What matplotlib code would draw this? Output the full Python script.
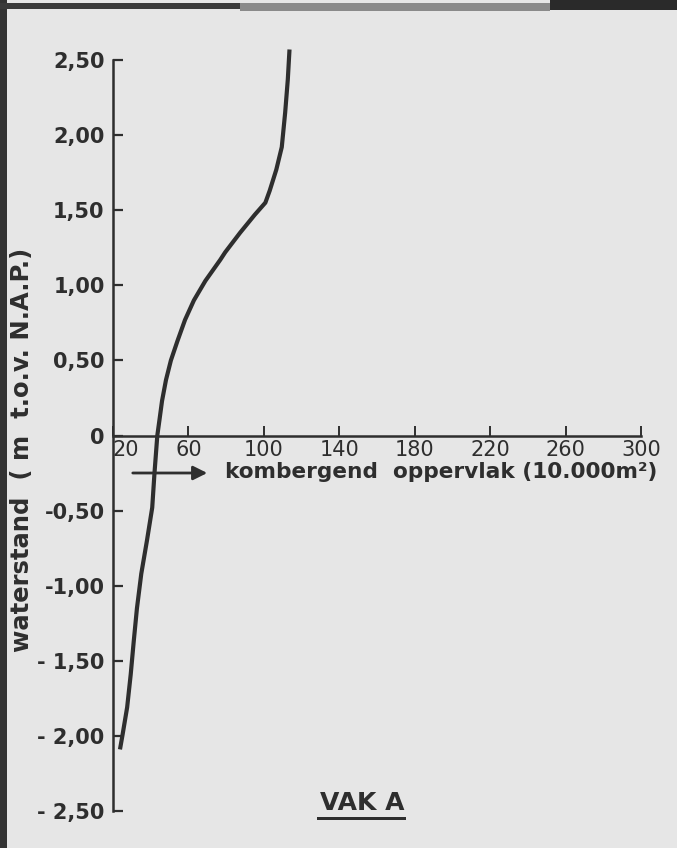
import matplotlib
matplotlib.use("Agg")
import matplotlib.pyplot as plt
from matplotlib.patches import Rectangle, FancyArrowPatch

# curve: area (10.000 m2) vs water level (m t.o.v. N.A.P.)
area = [23.7, 25.1, 27.5, 29.4, 31.0, 32.7, 35.0, 38.0, 40.8, 42.0, 43.5,
        44.6, 46.0, 48.1, 50.7, 54.2, 58.2, 62.9, 69.0, 76.9, 79.5, 87.4,
        95.2, 100.8, 103.1, 106.6, 109.5, 111.3, 112.7, 113.6]
level = [-2.09, -1.99, -1.81, -1.59, -1.37, -1.15, -0.92, -0.70, -0.48,
         -0.25, 0.00, 0.10, 0.23, 0.37, 0.50, 0.63, 0.77, 0.90, 1.03, 1.17,
         1.22, 1.35, 1.47, 1.55, 1.63, 1.77, 1.92, 2.15, 2.37, 2.57]

x_ticks = [20, 60, 100, 140, 180, 220, 260, 300]
y_ticks = [-2.5, -2.0, -1.5, -1.0, -0.5, 0, 0.5, 1.0, 1.5, 2.0, 2.5]
y_labels = ["- 2,50", "- 2,00", "- 1,50", "-1,00", "-0,50", "0",
            "0,50", "1,00", "1,50", "2,00", "2,50"]
x_labels = ["20", "60", "100", "140", "180", "220", "260", "300"]

ink = "#2e2e2e"
paper = "#e6e6e6"

fig = plt.figure(figsize=(6.77, 8.48), dpi=100)
fig.patch.set_facecolor(paper)
ax = fig.add_axes([113 / 677, 1 - 811 / 848, 528 / 677, 751 / 848])
ax.set_facecolor(paper)

ax.plot(area, level, color=ink, lw=3.0, solid_joinstyle="round",
        solid_capstyle="butt", clip_on=False)

ax.set_xlim(20, 300)
ax.set_ylim(-2.5, 2.5)
for s in ["top", "right"]:
    ax.spines[s].set_visible(False)
ax.spines["bottom"].set_position(("data", 0))
ax.spines["left"].set_linewidth(1.8)
ax.spines["bottom"].set_linewidth(1.8)
ax.spines["left"].set_color(ink)
ax.spines["bottom"].set_color(ink)

ax.set_yticks(y_ticks)
ax.set_yticklabels(y_labels, fontsize=15, fontweight="bold", color=ink)
ax.set_xticks(x_ticks)
ax.set_xticklabels(x_labels, fontsize=15, color=ink)
ax.tick_params(axis="y", direction="in", length=7.5, width=1.6, color=ink, pad=6)
ax.tick_params(axis="x", direction="in", length=7, width=1.4, color=ink, pad=3)
ax.xaxis.get_majorticklabels()[0].set_horizontalalignment("left")

# x-axis title with arrow
ax.add_patch(FancyArrowPatch((130 / 677, 1 - 473 / 848), (210 / 677, 1 - 473 / 848),
                             transform=fig.transFigure, arrowstyle="-|>,head_length=0.6,head_width=0.3",
                             mutation_scale=14, color=ink, lw=2))
fig.text(225 / 677, 1 - 472 / 848, "kombergend  oppervlak (10.000m²)",
         fontsize=15.6, fontweight="bold", color=ink, ha="left", va="center")

fig.text(22 / 677, 1 - 450 / 848, "waterstand  ( m  t.o.v. N.A.P.)",
         fontsize=17.5, fontweight="bold", color=ink, rotation=90, ha="center", va="center")

fig.text(362 / 677, 1 - 803 / 848, "VAK A", fontsize=18, fontweight="bold", color=ink,
         ha="center", va="center")
fig.add_artist(Rectangle((317 / 677, 1 - 820 / 848), 89 / 677, 3 / 848,
                         transform=fig.transFigure, color=ink, lw=0))

# scan frame: dark bar on the left, dark rule along the top
fig.add_artist(Rectangle((0, 0), 7 / 677, 1, transform=fig.transFigure, color="#333333", lw=0))
fig.add_artist(Rectangle((0, 1 - 9 / 848), 240 / 677, 6 / 848, transform=fig.transFigure,
                         color="#3a3a3a", lw=0))
fig.add_artist(Rectangle((240 / 677, 1 - 11 / 848), 310 / 677, 8 / 848, transform=fig.transFigure,
                         color="#8a8a8a", lw=0))
fig.add_artist(Rectangle((550 / 677, 1 - 10 / 848), 127 / 677, 10 / 848, transform=fig.transFigure,
                         color="#2a2a2a", lw=0))

fig.savefig("out.png", dpi=100, facecolor=paper)
